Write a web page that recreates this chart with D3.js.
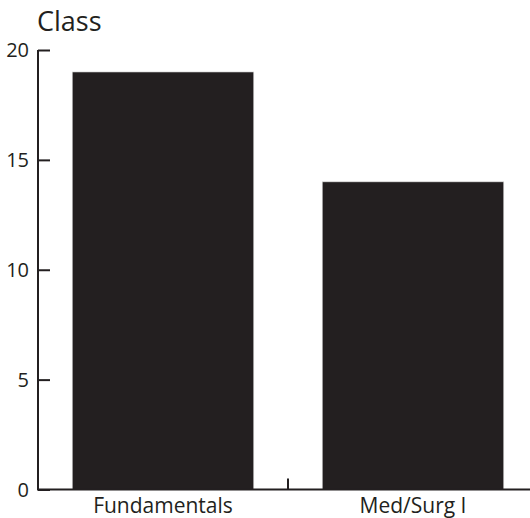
<!DOCTYPE html>
<html>
<head>
<meta charset="utf-8">
<script src="https://cdn.jsdelivr.net/npm/d3@7"></script>
<style>
  html, body { margin: 0; padding: 0; background: #fff; }
  svg { display: block; }
  text { font-family: "Open Sans", sans-serif; fill: #231f20; }
</style>
</head>
<body>
<svg id="chart" width="530" height="518"></svg>
<script>
const categories = ["Fundamentals", "Med/Surg I"];
const values = [19, 14];
const yTicks = [0, 5, 10, 15, 20];
const title = "Class";

const svg = d3.select("#chart");
const ink = "#231f20";

const x = d3.scaleBand().domain(categories).range([38, 538]).paddingInner(0.274).paddingOuter(0.137);
const y = d3.scaleLinear().domain([0, 20]).range([489.5, 50]);

// bars
svg.append("g").selectAll("rect").data(categories).join("rect")
  .attr("x", d => x(d))
  .attr("width", x.bandwidth())
  .attr("y", (d, i) => y(values[i]))
  .attr("height", (d, i) => y(0) - y(values[i]))
  .attr("fill", ink)
  .attr("stroke", "#d8d8d8")
  .attr("stroke-width", 0.6);

// y axis
const yAxis = d3.axisRight(y).tickValues(yTicks).tickSize(12).tickFormat("");
const gy = svg.append("g").attr("transform", "translate(38,0)").call(yAxis);
gy.select(".domain").attr("d", `M0,${y(20)}V${y(0)}`).attr("stroke", ink).attr("stroke-width", 2);
gy.selectAll(".tick line").attr("stroke", ink).attr("stroke-width", 2);

svg.append("g").selectAll("text").data(yTicks).join("text")
  .attr("x", 29)
  .attr("y", d => y(d))
  .attr("dy", "0.36em")
  .attr("text-anchor", "end")
  .style("font-size", "20px")
  .text(d => d);

// x axis
const gx = svg.append("g").attr("transform", `translate(0,${y(0)})`);
gx.append("line").attr("x1", 37).attr("x2", 538).attr("stroke", ink).attr("stroke-width", 2);
// tick between categories
const mid = (x(categories[0]) + x.bandwidth() + x(categories[1])) / 2;
gx.append("line").attr("x1", mid).attr("x2", mid).attr("y1", 0).attr("y2", -11)
  .attr("stroke", ink).attr("stroke-width", 2);

gx.selectAll("text").data(categories).join("text")
  .attr("x", d => x(d) + x.bandwidth() / 2)
  .attr("y", 23.5)
  .attr("text-anchor", "middle")
  .style("font-size", "21px")
  .text(d => d);

// title
svg.append("text").attr("x", 37).attr("y", 31)
  .style("font-size", "27px")
  .text(title);
</script>
</body>
</html>
